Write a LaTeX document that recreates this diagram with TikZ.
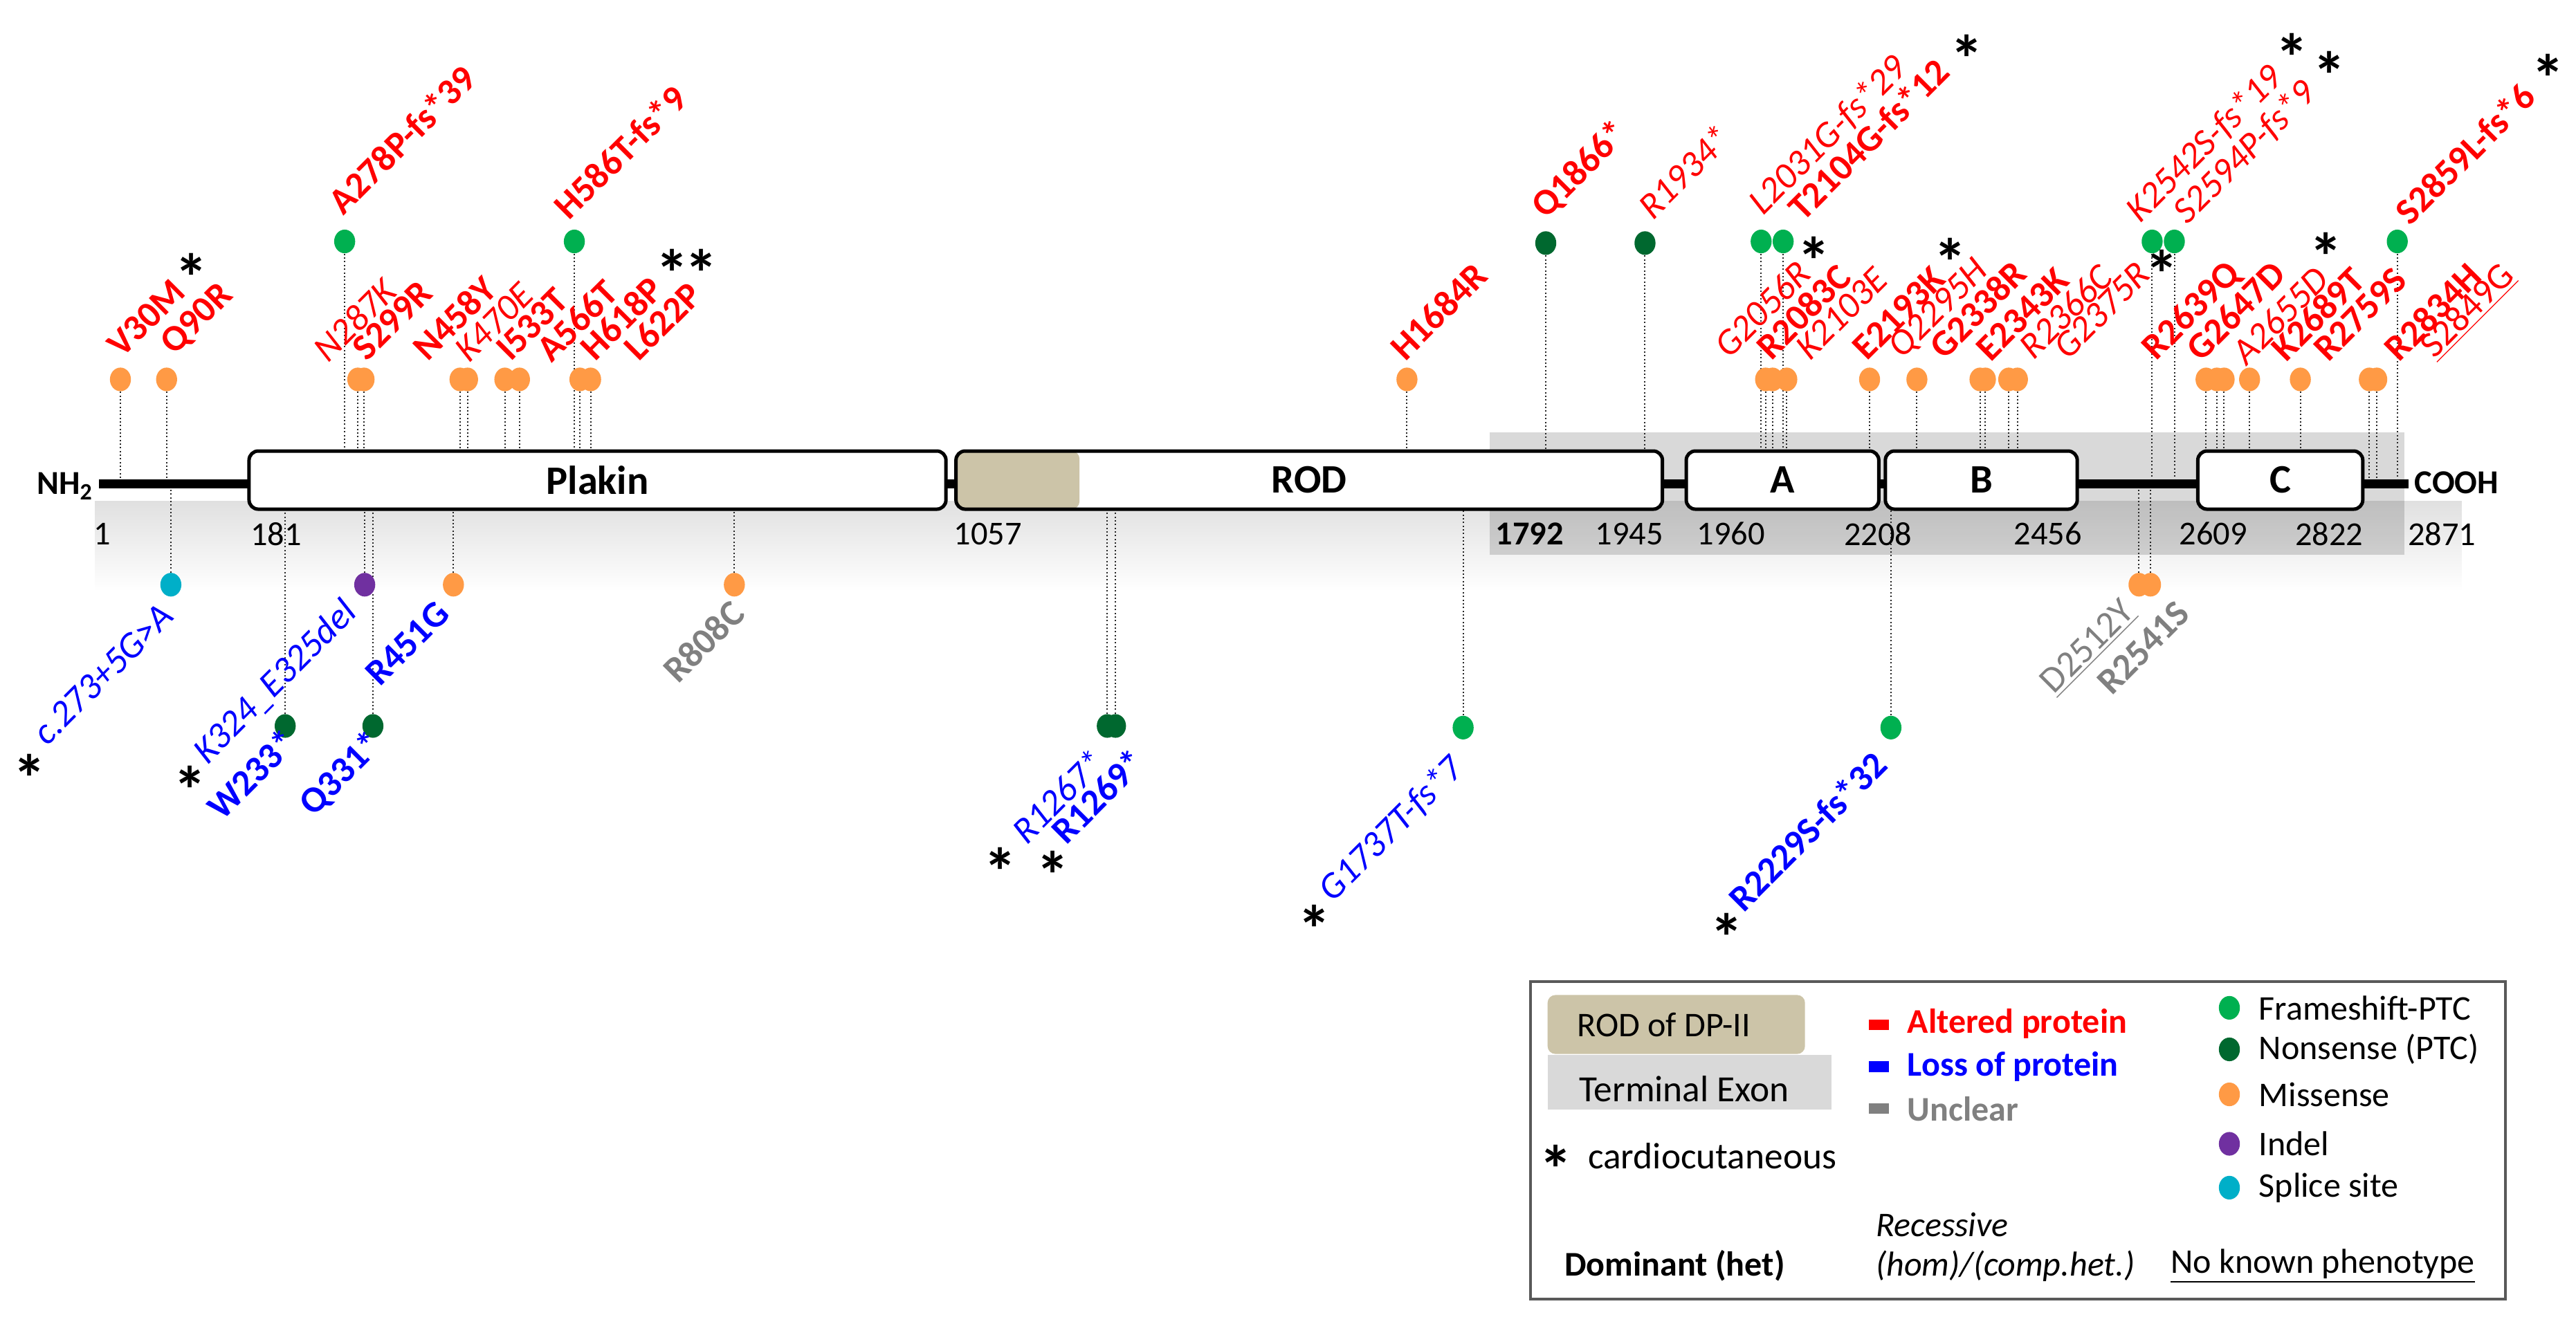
\documentclass[tikz,border=0pt]{standalone}
\usepackage{fontspec}
\setmainfont{Carlito}
\usetikzlibrary{shapes.geometric,fadings}
\definecolor{fsgreen}{HTML}{00B050}
\definecolor{nsgreen}{HTML}{00682F}
\definecolor{msorange}{HTML}{FF9A45}
\definecolor{indelpurple}{HTML}{7030A0}
\definecolor{splicecyan}{HTML}{00AFC8}
\definecolor{rodtan}{HTML}{CCC4A8}
\definecolor{exongray}{HTML}{D9D9D9}
\definecolor{unclgray}{HTML}{808080}
\pgfdeclarelayer{bg}
\pgfdeclarelayer{stems}
\pgfsetlayers{bg,stems,main}

\begin{document}
\begin{tikzpicture}[
    x=0.25mm, y=-0.25mm,
    blob/.style={ellipse, inner sep=0pt, minimum width=3.2mm, minimum height=3.6mm},
    fsdot/.style={blob, fill=fsgreen},
    nsdot/.style={blob, fill=nsgreen},
    msdot/.style={blob, fill=msorange},
    indeldot/.style={blob, fill=indelpurple},
    splicedot/.style={blob, fill=splicecyan},
    stem/.style={densely dotted, line width=0.6pt, black!85},
    mutlbl/.style={rotate=45, anchor=south west, inner sep=0pt},
    dom/.style={mutlbl, font=\fontsize{16}{16}\selectfont\bfseries},
    rec/.style={mutlbl, font=\fontsize{16}{16}\selectfont\itshape},
    nkp/.style={mutlbl, font=\fontsize{16}{16}\selectfont},
    cc/.style={inner sep=0pt, yshift=-4.8pt, font=\fontsize{29}{29}\selectfont\bfseries},
    dombox/.style={draw, line width=1.5pt, fill=white, rounded corners=1.4mm,
      minimum height=8.85mm, inner sep=0pt, font=\fontsize{17.5}{18}\selectfont\bfseries},
    num/.style={font=\fontsize{14.5}{15}\selectfont},
    leg/.style={anchor=west, inner sep=0pt, font=\fontsize{15}{15}\selectfont},
  ]
  \useasboundingbox (0,0) rectangle (1568,806.1);
  \coordinate (bar) at (0,294.5);

  \begin{pgfonlayer}{bg}
    \fill[exongray] (906.6,263.3) rectangle (1463.4,337.7);
    \fill[black, opacity=0.12, path fading=south] (58,305) rectangle (1500,360);
  \end{pgfonlayer}

  \node[font=\fontsize{14.5}{15}\selectfont\bfseries, inner sep=2.5pt] (nh2) at (39.5,296) {NH\textsubscript{2}};
  \node[font=\fontsize{14.5}{15}\selectfont\bfseries, inner sep=2.5pt] (cooh) at (1495.3,294) {COOH};
  \draw[line width=4pt] (nh2.east |- bar) -- (cooh.west |- bar);

  \node[dombox, minimum width=106.05mm] (plakin) at (363.7,292.3) {Plakin};
  \node[dombox, minimum width=107.5mm, path picture={
      \fill[rodtan, rounded corners=1.2mm] ([xshift=-3mm]path picture bounding box.north west)
        rectangle ([xshift=18.8mm]path picture bounding box.south west);}] (rod) at (796.9,292.3) {ROD};
  \node[dombox, minimum width=29.3mm] (doma) at (1085,292.3) {A};
  \node[dombox, minimum width=29.2mm] (domb) at (1206,292.3) {B};
  \node[dombox, minimum width=25.1mm] (domc) at (1388,292.3) {C};

  \foreach \n/\x in {1/62.3, 181/168, 1057/601.3, 1945/991.7, 1960/1053.7, 2208/1143.1,
      2456/1246.5, 2609/1347.2, 2822/1417.8, 2871/1486.4}
    \node[num] (p\n) at (\x,325) {\n};
  \node[num, font=\fontsize{14.5}{15}\selectfont\bfseries] (p1792) at (931,325) {1792};

  \foreach \n/\x in {v30m/73.3, q90r/101.4, n287k/217.8, s299r/221.6, n458y/280, k470e/284.6,
      i533t/307.3, a566t/316.2, h618p/353, l622p/359.5, h1684r/856.4, g2056r/1074.7,
      r2083c/1079, k2103e/1087.6, e2193k/1138, q2295h/1166.8, g2338r/1205.2, e2343k/1208.5,
      r2366c/1222.7, g2375r/1228, r2639q/1342.8, g2647d/1349.4, a2655d/1353.8, k2689t/1369.3,
      r2759s/1400.2, r2834h/1442.2, s2849g/1446.7}
    \node[msdot] (\n) at (\x,231) {};
  \foreach \n/\x in {a278p/209.8, h586t/349.6, l2031g/1072, t2104g/1085.4, k2542s/1310,
      s2594p/1323.5, s2859l/1459.2}
    \node[fsdot] (\n) at (\x,147) {};
  \foreach \n/\x in {q1866/940.9, r1934/1001.3}
    \node[nsdot] (\n) at (\x,148) {};
  \node[splicedot] (c273) at (104,356) {};
  \node[indeldot] (k324) at (222,356) {};
  \foreach \n/\x in {r451g/276, r808c/447, d2512y/1302, r2541s/1309}
    \node[msdot] (\n) at (\x,356) {};
  \foreach \n/\x in {w233/173.6, q331/227, r1267/674, r1269/679}
    \node[nsdot] (\n) at (\x,442) {};
  \foreach \n/\x in {g1737t/890.6, r2229s/1151}
    \node[fsdot] (\n) at (\x,443) {};

  \begin{pgfonlayer}{stems}
    \foreach \n in {v30m, q90r, n287k, s299r, n458y, k470e, i533t, a566t, h618p, l622p, h1684r,
        g2056r, r2083c, k2103e, e2193k, q2295h, g2338r, e2343k, r2366c, g2375r, r2639q, g2647d,
        a2655d, k2689t, r2759s, r2834h, s2849g, a278p, h586t, l2031g, t2104g, k2542s, s2594p,
        s2859l, q1866, r1934, c273, k324, r451g, r808c, d2512y, r2541s, w233, q331, r1267, r1269,
        g1737t, r2229s}
      \draw[stem] (\n) -- (\n |- bar);
  \end{pgfonlayer}

  \begin{scope}[shift={(8,3)}]
  \foreach \n/\x/\y/\lbl in {v30m/66.5/216/V30M, q90r/100.5/216/Q90R, s299r/215.7/218/S299R,
      n458y/252.7/218/N458Y, i533t/303/218/I533T, a566t/328/219/A566T, h618p/354.6/218/H618P,
      l622p/381.2/218/L622P, a278p/201.3/129/A278P-fs*39, h586t/338.7/132/H586T-fs*9,
      h1684r/847.5/218/H1684R, q1866/935/133/Q1866*, t2104g/1089.7/133/T2104G-fs*12,
      r2083c/1070.4/217.5/R2083C, e2193k/1128.7/217.6/E2193K, g2338r/1175.7/217/G2338R,
      e2343k/1204/218.3/E2343K, r2639q/1306.7/219.4/R2639Q, g2647d/1332/218.4/G2647D,
      k2689t/1384/218.4/K2689T, r2759s/1409.5/218.4/R2759S, r2834h/1452.7/218.4/R2834H,
      s2859l/1459.3/135.5/S2859L-fs*6}
    \node[dom, red] (l\n) at (\x,\y) {\lbl};
  \foreach \n/\x/\y/\lbl in {n287k/192/219/N287K, k470e/277.8/219/K470E, r1934/998.4/132/R1934*,
      l2031g/1067/131/L2031G-fs*29, g2056r/1044.6/216.5/G2056R, k2103e/1094/217.5/K2103E,
      q2295h/1152.2/218.3/Q2295H, r2366c/1230.2/217/R2366C, g2375r/1251/217/G2375R,
      k2542s/1296.8/135.5/K2542S-fs*19, s2594p/1325.5/136.5/S2594P-fs*9, a2655d/1359.7/220.4/A2655D}
    \node[rec, red] (l\n) at (\x,\y) {\lbl};
  \node[nkp, red] (ls2849g) at (1475.9,218.4) {\underline{S2849G}};

  \foreach \n/\x/\y/\lbl in {c273/21/452/c.273+5G>A, k324/120.5/465.4/K324\_E325del,
      r1267/617.2/512.3/R1267*, g1737t/805.3/549/G1737T-fs*7}
    \node[rec, blue] (l\n) at (\x,\y) {\lbl};
  \foreach \n/\x/\y/\lbl in {w233/127.5/497.7/W233*, q331/185/496.8/Q331*, r451g/223.5/416/R451G,
      r1269/641.5/512.3/R1269*, r2229s/1053.5/553.5/R2229S-fs*32}
    \node[dom, blue] (l\n) at (\x,\y) {\lbl};
  \foreach \n/\x/\y/\lbl in {r808c/405/414.3/R808C, r2541s/1277.5/421.4/R2541S}
    \node[dom, unclgray] (l\n) at (\x,\y) {\lbl};
  \node[nkp, unclgray] (ld2512y) at (1244.5,422.7) {\underline{D2512Y}};
  \end{scope}

  \foreach \i/\x/\y in {1/116.7/162, 2/409.3/159.4, 3/427/159.4, 4/1104/152, 5/1187/153,
      6/1197/29, 7/1315.8/160, 8/1395/28, 9/1418/39, 10/1415.8/149.6, 11/1551/41,
      12/18/467, 13/115.5/474, 14/609/524, 15/641/526, 16/800/559, 17/1051/564}
    \node[cc] (s\i) at (\x,\y) {*};

  \draw[gray!70!black, line width=1.2pt] (931.6,597.7) rectangle (1524.9,791);
  \fill[rodtan, rounded corners=1.2mm] (942,605.8) rectangle (1098.7,641.7);
  \fill[exongray] (942,642.4) rectangle (1114.9,675.7);
  \node[leg] (legrod) at (959.7,624) {ROD of DP-II};
  \node[leg, font=\fontsize{16}{16}\selectfont] (legexon) at (961,662.8) {Terminal Exon};
  \node[cc] (legstar) at (947,704.8) {*};
  \node[leg, font=\fontsize{16}{16}\selectfont] (legcardio) at (966.3,704) {cardiocutaneous};
  \fill[red] (1137.5,620.6) rectangle (1149.6,627);
  \fill[blue] (1137.5,646.2) rectangle (1149.6,652.6);
  \fill[unclgray] (1137.5,671.8) rectangle (1149.6,678.2);
  \node[leg, red, font=\fontsize{15}{15}\selectfont\bfseries] (legalt) at (1160.8,623.4) {Altered protein};
  \node[leg, blue, font=\fontsize{15}{15}\selectfont\bfseries] (legloss) at (1160.8,649.4) {Loss of protein};
  \node[leg, unclgray, font=\fontsize{15}{15}\selectfont\bfseries] (legunc) at (1160.8,675) {Unclear};
  \node[fsdot] (legfs) at (1357,613.6) {};
  \node[nsdot] (legns) at (1357,638.9) {};
  \node[msdot] (legms) at (1357,666.3) {};
  \node[indeldot] (legindel) at (1357,696.4) {};
  \node[splicedot] (legsplice) at (1357,723.1) {};
  \node[leg] (legfst) at (1374.7,613.6) {Frameshift-PTC};
  \node[leg] (legnst) at (1374.7,638.9) {Nonsense (PTC)};
  \node[leg] (legmst) at (1374.7,666.3) {Missense};
  \node[leg] (legindelt) at (1374.7,696.4) {Indel};
  \node[leg] (legsplicet) at (1374.7,723.1) {Splice site};
  \node[leg, font=\fontsize{15}{15}\selectfont\itshape] (legrec) at (1141.6,745.6) {Recessive};
  \node[leg, font=\fontsize{15}{15}\selectfont\itshape] (leghom) at (1141.6,770.8) {(hom)/(comp.het.)};
  \node[leg, font=\fontsize{15}{15}\selectfont\bfseries] (legdom) at (952,770.8) {Dominant (het)};
  \node[leg] (legnkp) at (1321,770.8) {\underline{No known phenotype}};
\end{tikzpicture}
\end{document}
